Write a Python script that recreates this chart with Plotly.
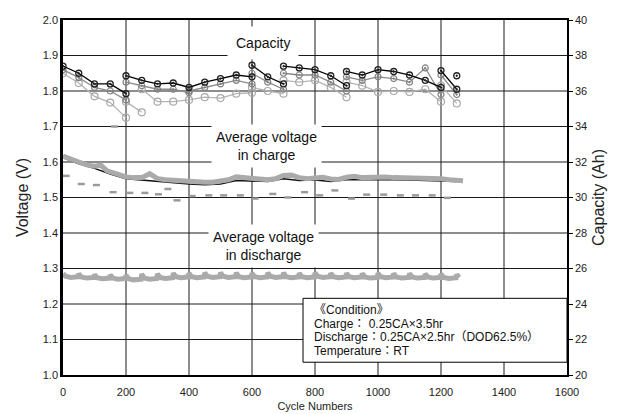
import plotly.graph_objects as go

# ---------------- data ----------------
x_ticks = [0, 200, 400, 600, 800, 1000, 1200, 1400, 1600]
v_ticks = [1.0, 1.1, 1.2, 1.3, 1.4, 1.5, 1.6, 1.7, 1.8, 1.9, 2.0]

# Capacity (Ah) - segments separated by None
cap_black_x = [0, 50, 100, 150, 200, None, 200, 250, 300, 350, 400, 450, 500, 550, 600, None,
               600, 650, 700, None, 700, 750, 800, 850, 900, None,
               900, 950, 1000, 1050, 1100, 1150, 1200, None, 1200, 1250, None, 1250]
cap_black_y = [37.4, 37.0, 36.4, 36.4, 35.85, None, 36.86, 36.6, 36.4, 36.45, 36.2, 36.5, 36.7, 36.9, 36.8, None,
               37.45, 36.8, 36.4, None, 37.4, 37.3, 37.2, 36.86, 36.3, None,
               37.1, 36.9, 37.2, 37.1, 36.9, 36.6, 36.2, None, 37.15, 36.1, None, 36.86]

cap_gray_x = [0, 50, 100, 150, 200, None, 200, 250, 300, 350, 400, None, 400, 450, 500, 550, 600, None,
              600, 650, 700, None, 700, 750, 800, 850, 900, None,
              900, 950, 1000, 1050, 1100, 1150, 1200, None, 1200, 1250]
cap_gray_y = [37.2, 36.75, 36.2, 36.0, 35.5, None, 36.5, 36.3, 36.1, 36.1, 35.9, None, 36.0, 36.2, 36.4, 36.6, 36.4, None,
              37.0, 36.5, 36.1, None, 37.0, 36.9, 36.9, 36.5, 36.0, None,
              36.8, 36.6, 36.8, 36.7, 36.5, 37.3, 35.8, None, 36.9, 35.8]

cap_light_x = [0, 50, 100, 150, 200, None, 200, 250, None, 250, 300, 350, 400, 450, 500, 550, 600, None,
               600, 650, 700, None, 700, 750, 800, 850, 900, None,
               900, 950, 1000, 1050, 1100, 1150, 1200, None, 1200, 1250]
cap_light_y = [37.0, 36.45, 35.7, 35.35, 34.5, None, 35.4, 34.8, None, 36.1, 35.4, 35.4, 35.5, 35.65, 35.6, 35.85, 35.9, None,
               36.2, 36.0, 35.85, None, 36.6, 36.5, 36.6, 36.2, 35.65, None,
               36.5, 36.3, 35.95, 36.0, 35.95, 36.1, 35.4, None, 36.3, 35.3]

# Average charge voltage (V)
chg_x = [0, 25, 50, 75, 100, 120, 140, 175, 200, 225, 250, 275, 300, 325, 350, 375, 400, 425, 450, 475,
         500, 525, 550, 575, 600, 625, 650, 675, 700, 725, 750, 775, 800, 825, 850, 875, 900, 925, 950, 975,
         1000, 1025, 1050, 1075, 1100, 1125, 1150, 1175, 1200, 1225, 1250, 1270]
chg_y = [1.617, 1.610, 1.600, 1.592, 1.588, 1.591, 1.575, 1.565, 1.558, 1.556, 1.556, 1.567, 1.553, 1.550,
         1.548, 1.546, 1.545, 1.544, 1.543, 1.543, 1.546, 1.550, 1.558, 1.556, 1.553, 1.552, 1.550, 1.553,
         1.562, 1.563, 1.556, 1.553, 1.556, 1.557, 1.552, 1.551, 1.557, 1.560, 1.556, 1.557, 1.560, 1.558,
         1.556, 1.556, 1.555, 1.554, 1.554, 1.553, 1.553, 1.550, 1.548, 1.547]
chg_black_x = [0, 50, 100, 150, 200, 250, 300, 350, 400, 450, 500, 550, 600, 650, 700, 750, 800, 850,
               900, 950, 1000, 1050, 1100, 1150, 1200, 1250]
chg_black_y = [1.612, 1.595, 1.582, 1.566, 1.553, 1.549, 1.546, 1.541, 1.538, 1.536, 1.538, 1.548, 1.546,
               1.545, 1.553, 1.548, 1.549, 1.545, 1.550, 1.550, 1.552, 1.550, 1.549, 1.548, 1.547, 1.545]

# Scattered charge readings (short dashes)
dash_x = [10, 58, 106, 163, 159, 212, 260, 303, 333, 362, 410, 463, 510, 563, 610, 666, 714, 767, 815,
          863, 916, 964, 1018, 1071, 1119, 1172, 1220]
dash_y = [1.561, 1.538, 1.535, 1.700, 1.515, 1.513, 1.513, 1.509, 1.524, 1.492, 1.504, 1.506, 1.506, 1.506,
          1.497, 1.510, 1.500, 1.515, 1.506, 1.520, 1.497, 1.508, 1.508, 1.506, 1.506, 1.506, 1.499]

# Average discharge voltage (V): each 50-cycle block starts with a hook (peak) then a floor
dis_start = [0, 50, 100, 150, 200, 250, 300, 350, 400, 450, 500, 550, 600, 650, 700, 750, 800, 850,
             900, 950, 1000, 1050, 1100, 1150, 1200, 1250]
dis_peak = [1.286, 1.285, 1.283, 1.282, 1.281, 1.284, 1.285, 1.287, 1.287, 1.288, 1.288, 1.288, 1.287,
            1.288, 1.288, 1.287, 1.288, 1.287, 1.287, 1.286, 1.287, 1.286, 1.286, 1.285, 1.285, 1.283]
dis_floor = [1.275, 1.273, 1.271, 1.270, 1.268, 1.270, 1.272, 1.274, 1.274, 1.275, 1.275, 1.274, 1.274,
             1.275, 1.274, 1.274, 1.275, 1.274, 1.274, 1.273, 1.274, 1.273, 1.273, 1.273, 1.272, 1.272]
dis_last_cycle = 1265

condition_lines = ["《Condition》", "Charge： 0.25CA×3.5hr",
                   "Discharge：0.25CA×2.5hr（DOD62.5%）", "Temperature：RT"]

# ---------------- figure ----------------
FONT = "Liberation Sans, Arial, Noto Sans CJK JP, sans-serif"
fig = go.Figure()

# grid lines (drawn from the tick lists, beneath the data)
for v in x_ticks[1:-1]:
    fig.add_shape(type="line", xref="x", yref="paper", x0=v, x1=v, y0=0, y1=1,
                  line=dict(color="#1a1a1a", width=1), layer="below")
for v in v_ticks[1:-1]:
    fig.add_shape(type="line", xref="paper", yref="y", x0=0, x1=1, y0=v, y1=v,
                  line=dict(color="#1a1a1a", width=1), layer="below")

# discharge line built from the per-block readings
dx, dy = [], []
for c, p, f in zip(dis_start, dis_peak, dis_floor):
    for off, val in ((0, p), (8, f + 0.003), (25, f), (48, f + 0.002)):
        if c + off <= dis_last_cycle:
            dx.append(c + off)
            dy.append(val)
fig.add_trace(go.Scatter(x=dx, y=dy, mode="lines", line=dict(color="#aaaaaa", width=5),
                         hoverinfo="skip", showlegend=False))

fig.add_trace(go.Scatter(x=chg_black_x, y=chg_black_y, mode="lines",
                         line=dict(color="#111111", width=1.5), showlegend=False))
fig.add_trace(go.Scatter(x=chg_x, y=chg_y, mode="lines", line=dict(color="#aaaaaa", width=5),
                         showlegend=False))
fig.add_trace(go.Scatter(x=dash_x, y=dash_y, mode="markers",
                         marker=dict(symbol="line-ew", size=5, line=dict(color="#9a9a9a", width=2.5)),
                         showlegend=False))

fig.add_trace(go.Scatter(x=cap_light_x, y=cap_light_y, yaxis="y2", mode="lines+markers",
                         line=dict(color="#b4b4b4", width=1.3),
                         marker=dict(symbol="circle-open", size=7, color="#a8a8a8", line=dict(width=1.2)),
                         showlegend=False))
fig.add_trace(go.Scatter(x=cap_gray_x, y=cap_gray_y, yaxis="y2", mode="lines+markers",
                         line=dict(color="#8a8a8a", width=1.3),
                         marker=dict(symbol="circle-open-dot", size=6, color="#808080", line=dict(width=1.2)),
                         showlegend=False))
fig.add_trace(go.Scatter(x=cap_black_x, y=cap_black_y, yaxis="y2", mode="lines+markers",
                         line=dict(color="#000000", width=1.3),
                         marker=dict(symbol="circle-open-dot", size=6, color="#222222", line=dict(width=1.3)),
                         showlegend=False))

# condition box
fig.add_shape(type="rect", xref="x", yref="y", x0=762, x1=1600, y0=1.036, y1=1.216,
              fillcolor="white", line=dict(color="black", width=1), layer="above")
for txt, yv in zip(condition_lines, [1.183, 1.145, 1.106, 1.069]):
    fig.add_annotation(x=790, y=yv, xref="x", yref="y", xanchor="left", yanchor="middle", align="left",
                       showarrow=False, font=dict(family=FONT, size=12, color="#111"), text=txt)

ann_font = dict(family=FONT, size=14, color="#111")
fig.add_annotation(x=635, y=1.935, text="Capacity", showarrow=False, bgcolor="white",
                   font=ann_font, borderpad=8)
fig.add_annotation(x=645, y=1.645, text="Average voltage<br>in charge", showarrow=False, bgcolor="white",
                   font=ann_font, borderpad=4)
fig.add_annotation(x=635, y=1.363, text="Average voltage<br>in discharge", showarrow=False, bgcolor="white",
                   font=ann_font, borderpad=4)

tick_font = dict(family=FONT, size=11, color="#222")
fig.update_layout(
    width=624, height=414,
    margin=dict(l=55, r=65, t=6, b=47),
    paper_bgcolor="white", plot_bgcolor="white",
    font=dict(family=FONT),
    xaxis=dict(range=[0, 1600], tickvals=x_ticks, tickfont=tick_font, ticklabelstandoff=6,
               showgrid=False, zeroline=False, ticklabeloverflow="allow",
               showline=True, linecolor="black", linewidth=1.5, mirror=True,
               title=dict(text="Cycle Numbers", font=dict(family=FONT, size=11, color="#222"), standoff=5)),
    yaxis=dict(range=[1.0, 2.0], tickvals=v_ticks, tickformat=".1f", tickfont=tick_font,
               showgrid=False, zeroline=False, ticklabeloverflow="allow",
               showline=True, linecolor="black", linewidth=2.5,
               title=dict(text="Voltage (V)", font=dict(family=FONT, size=16, color="#222"), standoff=11)),
    yaxis2=dict(range=[20, 40], dtick=2, overlaying="y", side="right", tickfont=tick_font,
                showgrid=False, zeroline=False, showline=True, linecolor="black", linewidth=1.5,
                ticks="outside", ticklen=4, tickcolor="black", ticklabeloverflow="allow",
                title=dict(text="Capacity (Ah)", font=dict(family=FONT, size=16, color="#222"), standoff=7)),
)

fig.write_html("out.html")
